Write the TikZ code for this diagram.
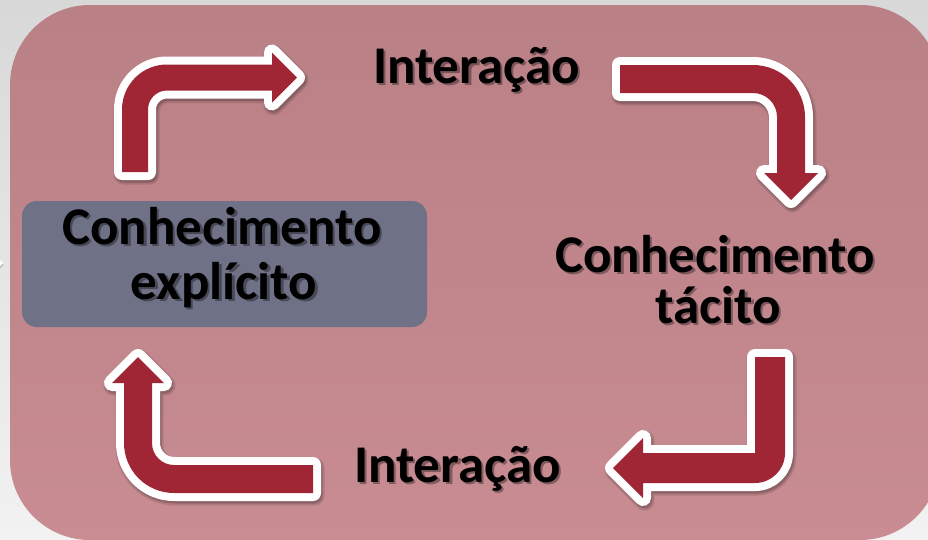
\documentclass[tikz,border=0pt]{standalone}
\usepackage{fontspec}
\setmainfont{Carlito}
\definecolor{bgtop}{HTML}{D8D8D8}
\definecolor{bgbot}{HTML}{F2F2F2}
\definecolor{pinktop}{HTML}{B98086}
\definecolor{pinkbot}{HTML}{C88C92}
\definecolor{boxc}{HTML}{6F7187}
\definecolor{arrowred}{HTML}{A02535}
\tikzset{
  barrow/.style={fill=arrowred,
    preaction={draw=black, fill=black, opacity=.12, line width=20pt, line join=round,
      transform canvas={xshift=1.5pt,yshift=-2.5pt}},
    preaction={draw=black, fill=black, opacity=.18, line width=16pt, line join=round,
      transform canvas={xshift=1.5pt,yshift=-2.5pt}},
    preaction={draw=white, fill=white, line width=16pt, line join=round}},
  lbl/.style={font=\bfseries\fontsize{53}{60}\selectfont, anchor=base, inner sep=0pt, text=black},
  lblsh/.style={lbl, text=black, opacity=.35, xshift=2.5pt, yshift=-2.5pt},
}
\begin{document}
\begin{tikzpicture}[x=1pt,y=-1pt]
\useasboundingbox (0,0) rectangle (928,539);
% outer background
\shade[top color=bgtop, bottom color=bgbot] (0,0) rectangle (928,539);
% small white tip at left edge
\fill[black, opacity=.15] (-6,257) -- (4,265) -- (-6,274) -- cycle;
\fill[white] (-6,255) -- (3,263) -- (-6,272) -- cycle;
% main rounded panel
\shade[top color=pinktop, bottom color=pinkbot, rounded corners=80pt] (10,5) rectangle (940,540);
% explicit knowledge box
\node[draw=none, fill=boxc, rounded corners=15pt, minimum width=405pt, minimum height=126pt, inner sep=0pt] (boxexp) at (224.5,264) {};

% arrow 1: up then right
\path[barrow] (122,172) -- (122,109.5) arc(180:270:45) -- (272,64.5) -- (272,52.5) -- (297,77.5)
  -- (272,102.5) -- (272,90.5) -- (167,90.5) arc(270:180:19) -- (148,172) -- cycle;
% arrow 2: right then down
\path[barrow] (620,65) -- (753,65) arc(270:360:52) -- (805,173) -- (818,173) -- (791,200)
  -- (764,173) -- (777,173) -- (777,117) arc(0:-90:24) -- (620,93) -- cycle;
% arrow 3: down then left
\path[barrow] (755,357) -- (785,357) -- (785,453) arc(0:90:30) -- (643,483) -- (643,498)
  -- (613,468) -- (643,438) -- (643,453) -- (755,453) -- cycle;
% arrow 4: left then up
\path[barrow] (313,465) -- (313,493) -- (174,493) arc(90:180:50) -- (124,383) -- (112,383)
  -- (138,357) -- (164,383) -- (152,383) -- (152,443) arc(180:90:22) -- cycle;

% labels (with soft shadows)
\node[lblsh] (inttopsh) at (476.5,83) {Interação};
\node[lbl] (inttop) at (476.5,83) {Interação};
\node[lblsh] (intbotsh) at (457.5,482) {Interação};
\node[lbl] (intbot) at (457.5,482) {Interação};
\node[lblsh] (exp1sh) at (222,244) {Conhecimento};
\node[lbl] (exp1) at (222,244) {Conhecimento};
\node[lblsh] (exp2sh) at (224,299) {explícito};
\node[lbl] (exp2) at (224,299) {explícito};
\node[lblsh] (tac1sh) at (715,272) {Conhecimento};
\node[lbl] (tac1) at (715,272) {Conhecimento};
\node[lblsh] (tac2sh) at (718,323) {tácito};
\node[lbl] (tac2) at (718,323) {tácito};
\end{tikzpicture}
\end{document}
